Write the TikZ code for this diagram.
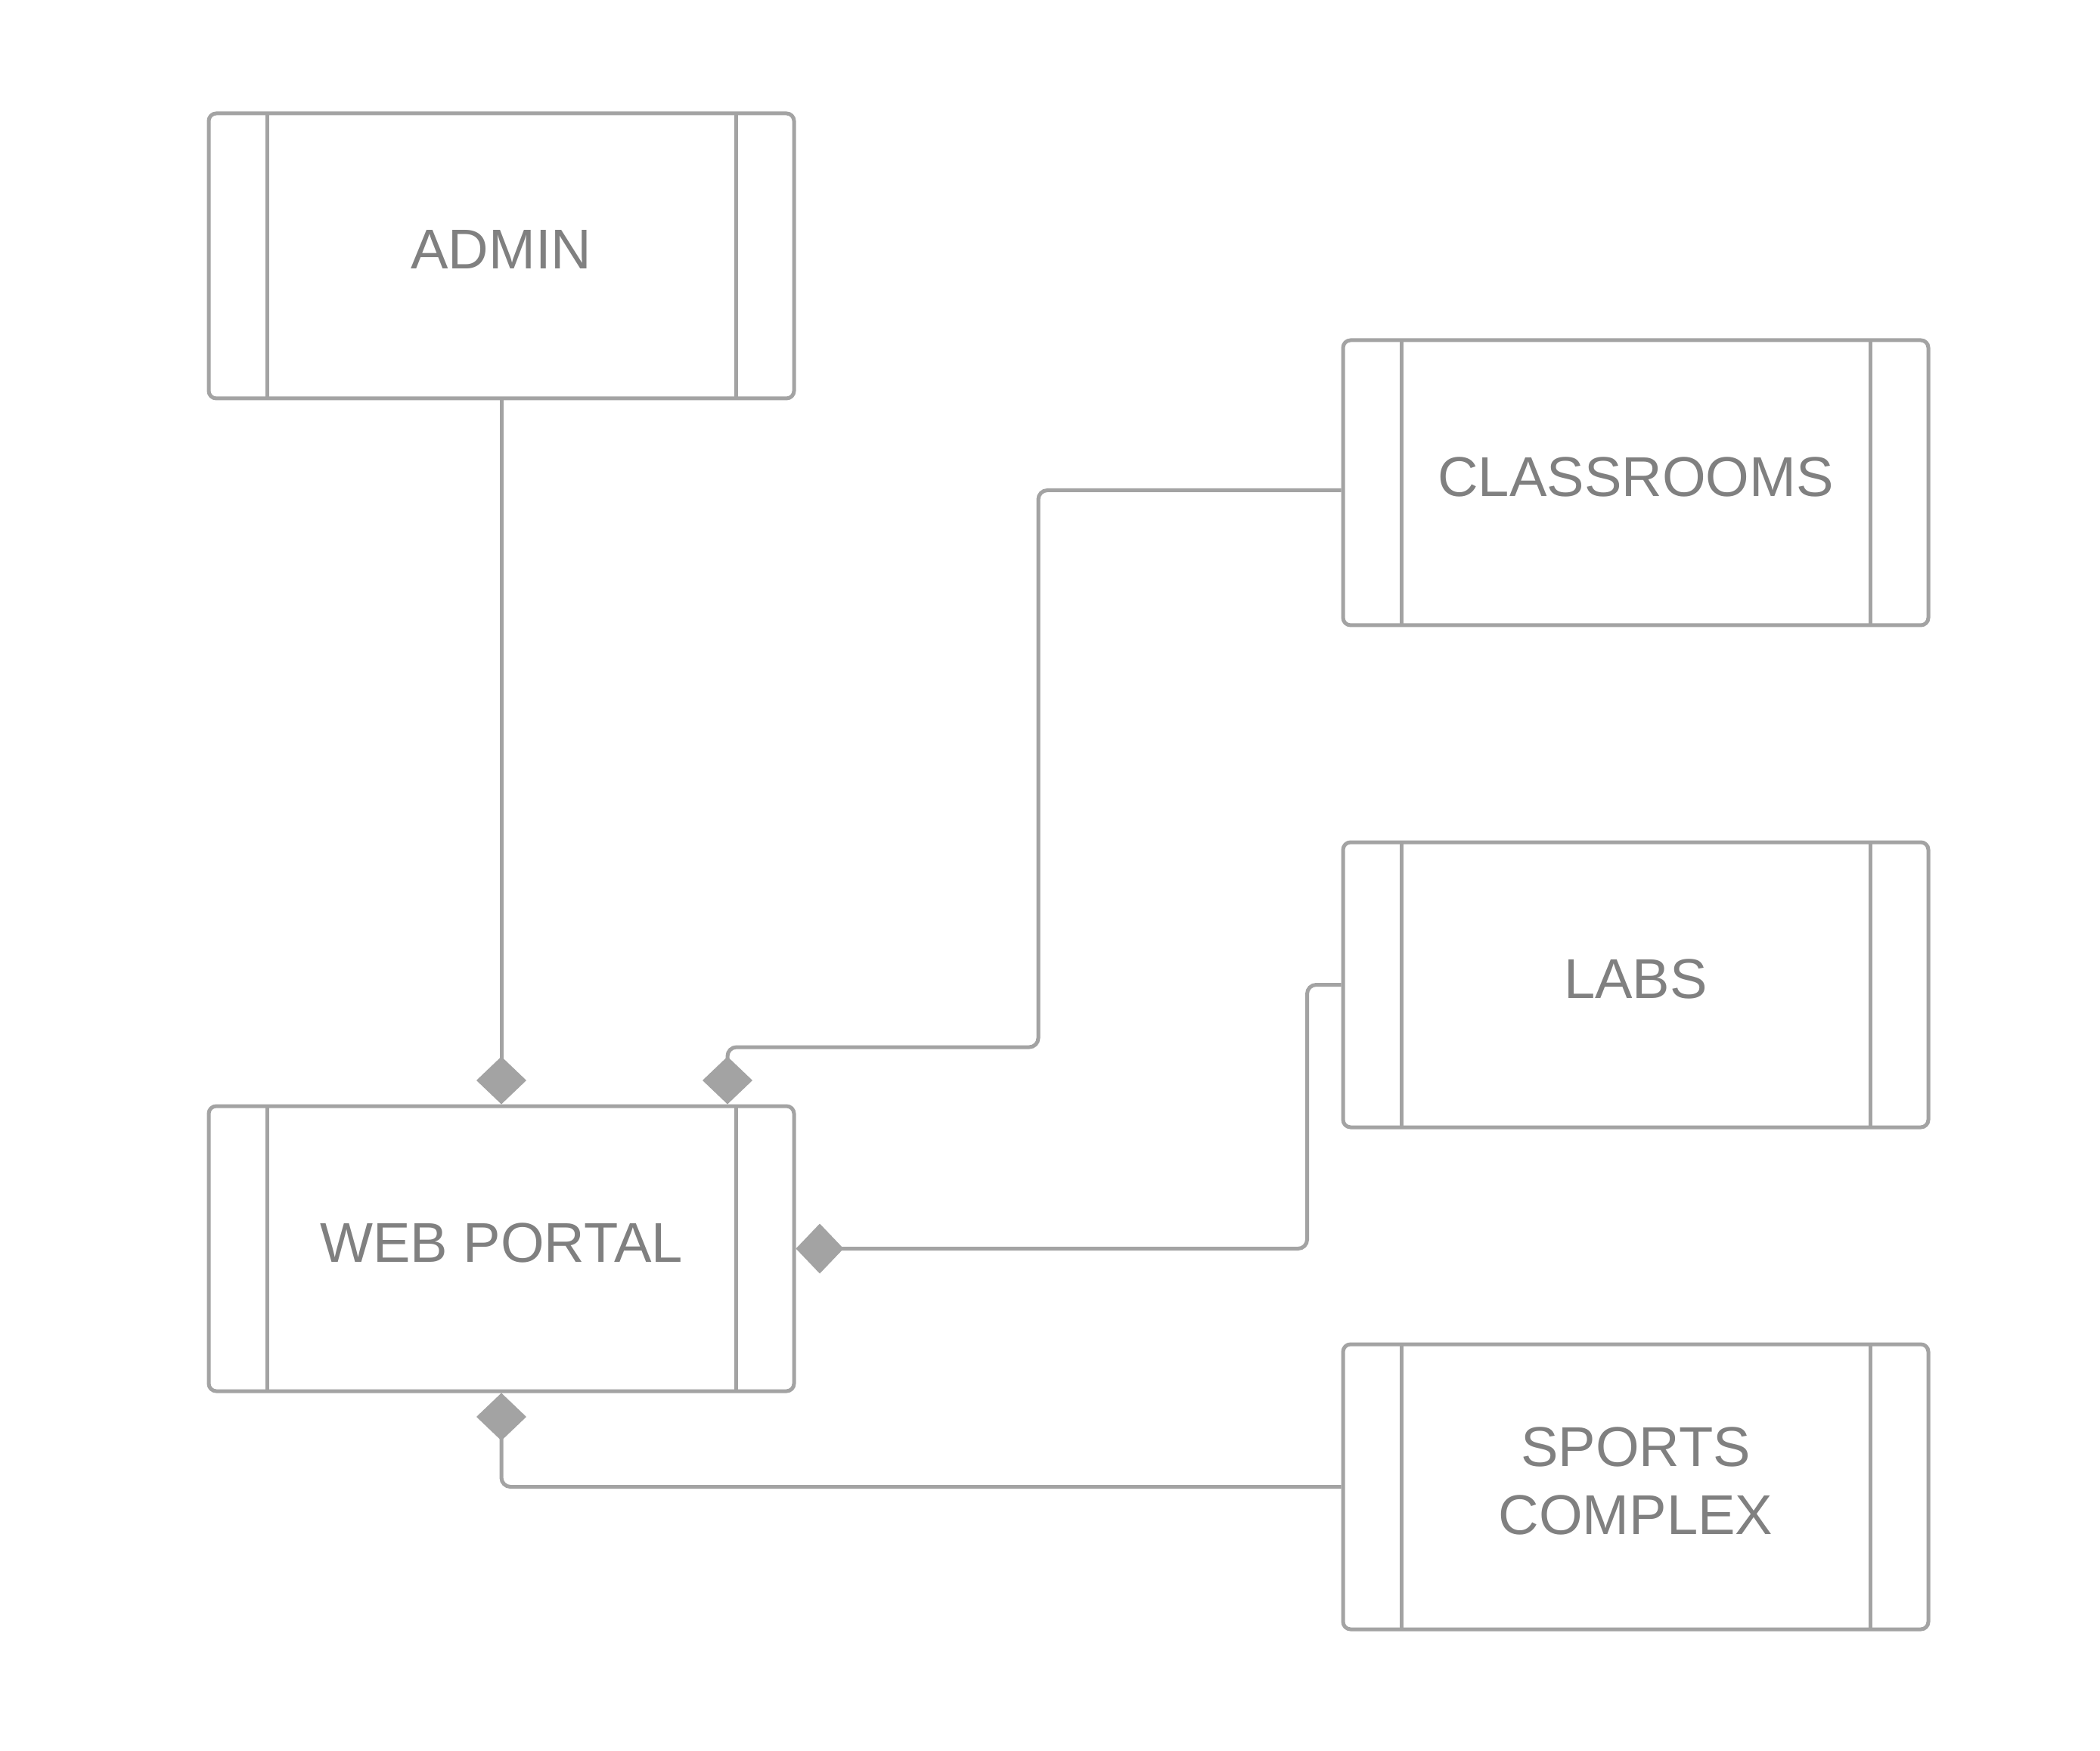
\documentclass[tikz,border=0pt]{standalone}
\usepackage{fontspec}
\setmainfont{Liberation Sans}
\usetikzlibrary{arrows.meta}
\definecolor{linegray}{HTML}{A3A3A3}
\definecolor{textgray}{HTML}{808080}
\tikzset{
  entity/.style={draw=linegray, line width=0.05cm, rounded corners=0.1cm,
    minimum width=7.74cm, minimum height=3.77cm, inner sep=0pt, fill=white,
    path picture={
      \draw[linegray, line width=0.05cm, sharp corners]
        ([xshift=0.77cm]path picture bounding box.north west) -- ([xshift=0.77cm]path picture bounding box.south west)
        ([xshift=-0.77cm]path picture bounding box.north east) -- ([xshift=-0.77cm]path picture bounding box.south east);
    }},
  txt/.style={text=textgray, font=\fontsize{21.1}{25.6}\selectfont, align=center, inner sep=0pt},
  conn/.style={draw=linegray, line width=0.05cm, rounded corners=0.12cm,
    -{Diamond[length=0.63cm, width=0.66cm, fill=linegray, line width=0pt]}}
}
\begin{document}
\begin{tikzpicture}
\fill[white] (0,0) rectangle (27.77,-23.16);
\useasboundingbox (0,0) rectangle (27.77,-23.16);

\node[entity, label={[txt, yshift=0.08cm, name=adminlbl]center:ADMIN}] (admin) at (6.63,-3.385) {};
\node[entity, label={[txt, yshift=0.08cm, name=weblbl]center:WEB PORTAL}] (web) at (6.63,-16.515) {};
\node[entity, label={[txt, yshift=0.08cm, name=clslbl]center:CLASSROOMS}] (cls) at (21.63,-6.385) {};
\node[entity, label={[txt, yshift=0.08cm, name=labslbl]center:LABS}] (labs) at (21.63,-13.025) {};
\node[entity, label={[txt, yshift=0.08cm, name=sportslbl]center:{SPORTS\\COMPLEX}}] (sports) at (21.63,-19.665) {};

\draw[conn] (admin.south) -- (web.north);
\draw[conn] ([yshift=-0.1cm]cls.west) -| (13.73,-13.85) -| ([xshift=2.99cm]web.north);
\draw[conn] (labs.west) -- ++(-0.45,0) |- (web.east);
\draw[conn] (sports.west) -| (web.south);
\end{tikzpicture}
\end{document}
